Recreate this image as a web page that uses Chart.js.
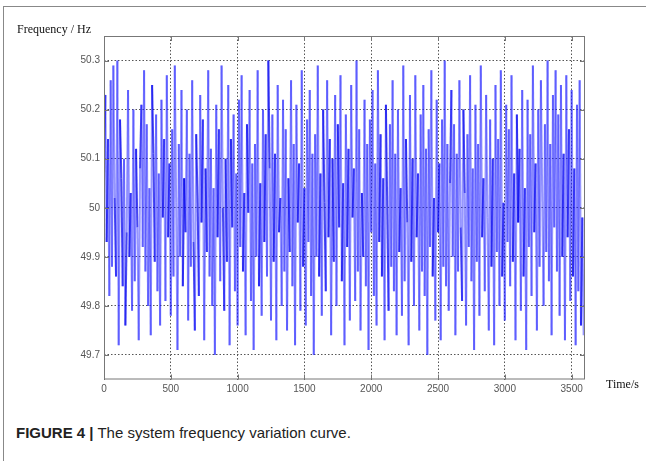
<!DOCTYPE html>
<html>
<head>
<meta charset="utf-8">
<script src="https://cdn.jsdelivr.net/npm/chart.js@4"></script>
<style>
    html, body { margin: 0; padding: 0; background: #fff; }
    body { width: 646px; height: 461px; position: relative; overflow: hidden; }
    #frame { position: absolute; left: 3px; top: 6px; right: 0; bottom: 0; border-top: 1px solid #888; border-left: 1px solid #888; }
    #chart { position: absolute; left: 0; top: 0; }
    .serif { position: absolute; font-family: "Liberation Serif", "Times New Roman", serif; font-size: 12px; color: #111; }
    #ylabel { left: 17px; top: 22px; }
    #xlabel { left: 606px; top: 377px; }
    #caption { position: absolute; left: 16px; top: 424px; font-family: "Liberation Sans", Arial, sans-serif; font-size: 15px; color: #222; }
    #caption b { font-weight: bold; }
</style>
</head>
<body>
<div id="frame"></div>
<canvas id="chart" width="646" height="400"></canvas>
<div class="serif" id="ylabel">Frequency / Hz</div>
<div class="serif" id="xlabel">Time/s</div>
<div id="caption"><b>FIGURE 4 |</b> The system frequency variation curve.</div>
<script>
// Sample spacing (s) and frequency readings (Hz)
const stepSeconds = 10;
const freq = [
    50.05, 50.23, 49.93, 50.14, 49.82, 50.26, 49.88, 50.29, 50.02, 49.86, 50.30, 49.72, 50.18, 50.06, 49.84, 50.10, 49.76, 49.95, 50.24, 49.90,
    50.03, 49.79, 50.20, 49.85, 50.12, 49.96, 49.73, 50.08, 50.21, 49.92, 50.28, 49.87, 50.17, 49.80, 50.04, 49.74, 50.25, 50.11, 49.89, 50.19,
    49.83, 50.07, 49.76, 50.22, 49.98, 50.14, 49.81, 50.27, 49.94, 50.09, 49.78, 50.16, 49.86, 50.29, 50.01, 49.71, 50.13, 49.90, 50.24, 49.84,
    50.06, 49.95, 50.20, 49.77, 50.11, 49.88, 50.26, 49.93, 49.75, 50.15, 50.02, 49.82, 50.23, 49.97, 50.18, 49.73, 50.08, 49.91, 50.28, 49.86,
    50.12, 49.80, 50.04, 49.70, 50.21, 49.94, 50.16, 49.85, 50.29, 50.00, 49.79, 50.10, 49.89, 50.25, 49.72, 50.14, 49.96, 50.19, 49.83, 50.07,
    49.76, 50.22, 49.92, 50.27, 49.87, 50.03, 49.74, 50.17, 49.99, 50.24, 49.81, 50.09, 49.71, 50.13, 49.90, 50.28, 49.84, 50.05, 49.78, 50.20,
    49.93, 50.15, 49.86, 50.30, 50.08, 49.77, 50.19, 49.89, 50.11, 49.73, 50.25, 49.95, 50.02, 49.80, 50.22, 49.87, 50.16, 49.75, 50.06, 49.91,
    50.26, 49.84, 50.13, 49.72, 50.21, 49.97, 50.09, 49.79, 50.28, 49.88, 50.04, 49.76, 50.18, 49.93, 50.24, 49.82, 50.11, 49.70, 50.15, 49.90,
    50.29, 49.86, 50.07, 49.78, 50.20, 50.01, 49.83, 50.26, 49.94, 50.14, 49.74, 50.10, 49.89, 50.23, 49.80, 50.17, 49.96, 50.27, 49.85, 50.05,
    49.72, 50.19, 49.92, 50.12, 49.77, 50.25, 49.98, 50.08, 49.81, 50.30, 49.87, 50.16, 49.75, 50.03, 49.90, 50.22, 49.84, 50.13, 49.71, 50.18,
    49.95, 50.24, 49.82, 50.09, 49.76, 50.28, 49.93, 50.15, 49.86, 50.06, 49.73, 50.21, 50.00, 49.79, 50.17, 49.88, 50.26, 49.83, 50.11, 49.74,
    50.20, 49.91, 50.04, 49.78, 50.29, 49.85, 50.14, 49.97, 49.72, 50.23, 49.89, 50.10, 49.80, 50.27, 49.94, 50.07, 49.75, 50.19, 49.87, 50.25,
    49.82, 50.12, 49.70, 50.16, 49.92, 50.28, 49.86, 50.02, 49.77, 50.22, 49.95, 50.09, 49.73, 50.18, 49.88, 50.30, 49.84, 50.13, 49.79, 50.05,
    50.24, 49.90, 50.17, 49.74, 50.11, 49.87, 50.26, 49.96, 49.81, 50.20, 50.03, 49.76, 50.15, 49.92, 50.27, 49.85, 50.08, 49.71, 50.21, 49.89,
    50.13, 49.78, 50.29, 49.94, 50.06, 49.83, 50.23, 49.98, 49.75, 50.18, 49.88, 50.10, 49.72, 50.25, 49.91, 50.14, 49.80, 50.28, 49.86, 50.01,
    49.77, 50.21, 49.93, 50.16, 49.84, 50.27, 49.89, 50.07, 49.73, 50.19, 49.97, 50.12, 49.79, 50.24, 49.86, 50.04, 49.71, 50.22, 49.92, 50.15,
    49.82, 50.29, 49.95, 50.09, 49.75, 50.20, 49.88, 50.26, 50.02, 49.80, 50.17, 49.91, 50.30, 49.85, 50.13, 49.74, 50.23, 49.96, 50.28, 49.87,
    50.19, 49.78, 50.25, 49.90, 50.11, 49.73, 50.27, 49.94, 50.16, 49.81, 50.24, 49.86, 50.08, 49.72, 50.21, 49.83, 50.26, 49.76, 49.98, 49.74
];
const xTicks = [0, 500, 1000, 1500, 2000, 2500, 3000, 3500];
const yTicks = [49.7, 49.8, 49.9, 50, 50.1, 50.2, 50.3];

const points = freq.map((f, i) => ({ x: i * stepSeconds, y: f }));

// MATLAB-style box with inward tick marks
const boxPlugin = {
    id: 'box',
    afterDatasetsDraw(chart) {
        const { ctx, chartArea: a, scales } = chart;
        ctx.save();
        ctx.strokeStyle = '#777';
        ctx.lineWidth = 1;
        ctx.strokeRect(a.left + 0.5, a.top + 0.5, a.right - a.left - 1, a.bottom - a.top - 1);
        ctx.beginPath();
        xTicks.forEach(t => {
            const px = Math.round(scales.x.getPixelForValue(t)) + 0.5;
            ctx.moveTo(px, a.top); ctx.lineTo(px, a.top + 5);
            ctx.moveTo(px, a.bottom); ctx.lineTo(px, a.bottom - 5);
        });
        yTicks.forEach(t => {
            const py = Math.round(scales.y.getPixelForValue(t)) + 0.5;
            ctx.moveTo(a.left, py); ctx.lineTo(a.left + 5, py);
            ctx.moveTo(a.right, py); ctx.lineTo(a.right - 5, py);
        });
        ctx.stroke();
        ctx.restore();
    }
};

const tickFont = { family: 'Arial, "Liberation Sans", sans-serif', size: 10 };

// short swings look darker in the source (dense overdraw), long ones lighter
function segColor(c) {
    const dy = Math.abs(c.p1.parsed.y - c.p0.parsed.y);
    if (dy < 0.22) return c.p0DataIndex % 2 ? 'rgba(0,0,235,0.72)' : 'rgba(0,0,236,0.72)';
    return c.p0DataIndex % 2 ? 'rgba(30,30,255,0.47)' : 'rgba(31,31,255,0.47)';
}

new Chart(document.getElementById('chart'), {
    type: 'line',
    data: {
        datasets: [{
            data: points,
            borderWidth: 2,
            pointRadius: 0,
            tension: 0,
            segment: { borderColor: segColor }
        }]
    },
    options: {
        responsive: false,
        animation: false,
        devicePixelRatio: 1,
        layout: { padding: { left: 0, top: 36, right: 61, bottom: 0 } },
        plugins: { legend: { display: false }, tooltip: { enabled: false } },
        scales: {
            x: {
                type: 'linear',
                min: 0,
                max: 3600,
                afterFit: s => { s.height = 20.5; },
                afterBuildTicks: s => { s.ticks = xTicks.map(v => ({ value: v })); },
                grid: { color: '#555', drawTicks: false },
                border: { display: false, dash: [1.5, 2] },
                ticks: { color: '#555', font: tickFont, padding: 4, maxRotation: 0, callback: v => String(v) }
            },
            y: {
                min: 49.65,
                max: 50.35,
                afterFit: s => { s.width = 104; },
                afterBuildTicks: s => { s.ticks = yTicks.map(v => ({ value: v })); },
                grid: { color: '#555', drawTicks: false },
                border: { display: false, dash: [1.5, 2] },
                ticks: { color: '#555', font: tickFont, padding: 4, callback: v => String(Number(v.toFixed(2))) }
            }
        }
    },
    plugins: [boxPlugin]
});
</script>
</body>
</html>
